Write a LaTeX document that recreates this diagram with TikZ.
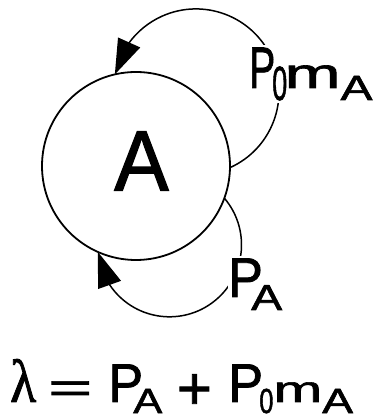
\documentclass[tikz,border=0pt]{standalone}
\usepackage{fontspec}
\setmainfont{Liberation Sans}[FakeBold=1.5]
\newfontfamily\grk{Liberation Serif}[FakeBold=1.5]
\usepackage{graphicx}
\usetikzlibrary{arrows.meta,bending}
\newcommand{\sg}[4]{\raisebox{#3pt}{\fontsize{#1pt}{#1pt}\selectfont\scalebox{#2}[1]{#4}}}
\begin{document}
\begin{tikzpicture}[x=1pt,y=1pt,
  circ/.style={circle,draw,line width=1.8pt,minimum size=188pt,inner sep=0pt,outer sep=0pt},
  loopline/.style={line width=1.5pt,-{Triangle[length=35pt,width=24pt,flex]}},
  lab/.style={anchor=base west,inner sep=0pt,fill=white}]
\useasboundingbox (0,0) rectangle (373,417);
\node[circ,label={[name=Atext,xshift=5.5pt,yshift=5pt]center:\sg{86}{0.95}{0}{A}}] (A) at (136,251) {};
\draw[loopline] (A.-1) arc[start angle=-65.8,end angle=167.8,radius=83];
\draw[loopline] (A.-20) arc[start angle=40.4,end angle=-174.3,radius=72];
\node[lab,inner ysep=3pt] (top) at (249,329) {\sg{58.6}{0.667}{0}{P}\hspace{-3pt}\sg{48}{0.56}{-12}{0}\hspace{-2.6pt}\sg{42}{1.6}{0}{m}\sg{35}{1.365}{-12}{A}};
\node[lab,inner ysep=3pt] (bot) at (228,120) {\sg{55.9}{0.93}{0}{P}\hspace{-11.7pt}\sg{36}{1.29}{-13}{A}};
\node[lab,fill=none] (eq) at (10,15) {\sg{61}{0.88}{0}{\grk λ}\hspace{12pt}\sg{42}{1.8}{0}{=}\hspace{16pt}\sg{54.5}{0.957}{0}{P}\hspace{-9.8pt}\sg{35}{1.24}{-11}{A}\hspace{14.6pt}\sg{60}{1}{-7}{+}\hspace{16.4pt}\sg{54.5}{0.957}{0}{P}\hspace{-3.8pt}\sg{34.8}{0.73}{-11}{0}\sg{36.6}{1.6}{0}{m}\sg{35}{1.32}{-11}{A}};
\end{tikzpicture}
\end{document}
